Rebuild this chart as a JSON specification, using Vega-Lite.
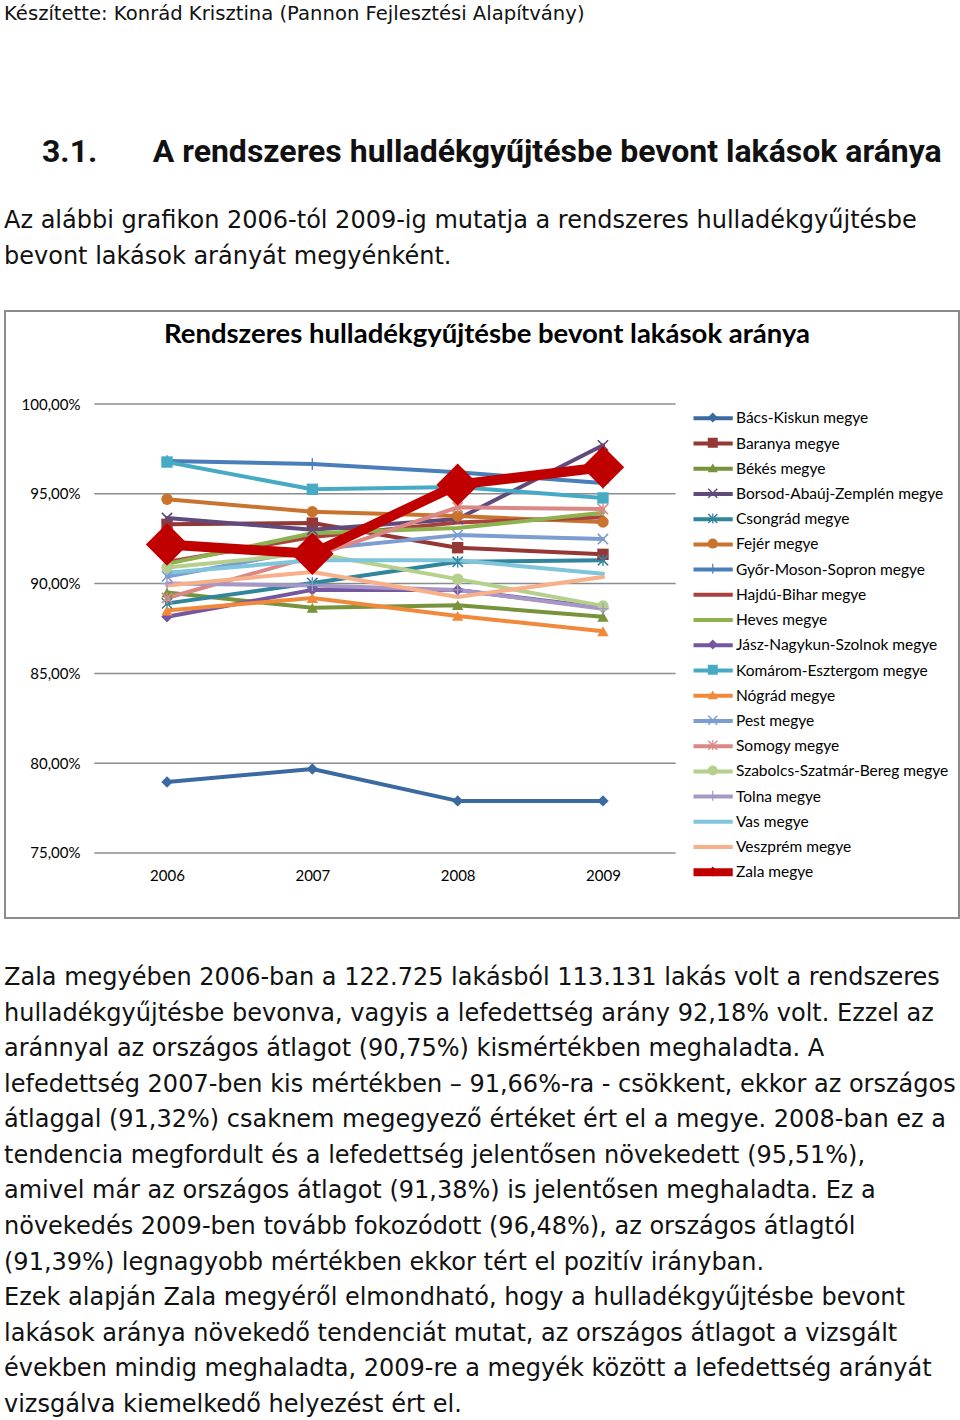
{
  "$schema": "https://vega.github.io/schema/vega-lite/v6.json",
  "background": "white",
  "padding": {"left": 4, "top": 4, "right": 0, "bottom": 0},
  "config": {
    "locale": {"number": {"decimal": ",", "thousands": "\u00a0", "grouping": [3], "currency": ["", "\u00a0Ft"]}},
    "concat": {"spacing": 0},
    "title": {"color": "#111111", "anchor": "start", "fontWeight": "normal"}
  },
  "datasets": {
    "grid": [{"tick": 0.75}, {"tick": 0.80}, {"tick": 0.85}, {"tick": 0.90}, {"tick": 0.95}, {"tick": 1.00}],
    "rates": [
      {"county": "Bács-Kiskun megye", "year": 2006, "rate": 0.7895},
      {"county": "Bács-Kiskun megye", "year": 2007, "rate": 0.7968},
      {"county": "Bács-Kiskun megye", "year": 2008, "rate": 0.7790},
      {"county": "Bács-Kiskun megye", "year": 2009, "rate": 0.7790},
      {"county": "Baranya megye", "year": 2006, "rate": 0.9330},
      {"county": "Baranya megye", "year": 2007, "rate": 0.9337},
      {"county": "Baranya megye", "year": 2008, "rate": 0.9200},
      {"county": "Baranya megye", "year": 2009, "rate": 0.9163},
      {"county": "Békés megye", "year": 2006, "rate": 0.8950},
      {"county": "Békés megye", "year": 2007, "rate": 0.8865},
      {"county": "Békés megye", "year": 2008, "rate": 0.8880},
      {"county": "Békés megye", "year": 2009, "rate": 0.8815},
      {"county": "Borsod-Abaúj-Zemplén megye", "year": 2006, "rate": 0.9365},
      {"county": "Borsod-Abaúj-Zemplén megye", "year": 2007, "rate": 0.9300},
      {"county": "Borsod-Abaúj-Zemplén megye", "year": 2008, "rate": 0.9360},
      {"county": "Borsod-Abaúj-Zemplén megye", "year": 2009, "rate": 0.9770},
      {"county": "Csongrád megye", "year": 2006, "rate": 0.8890},
      {"county": "Csongrád megye", "year": 2007, "rate": 0.9003},
      {"county": "Csongrád megye", "year": 2008, "rate": 0.9122},
      {"county": "Csongrád megye", "year": 2009, "rate": 0.9130},
      {"county": "Fejér megye", "year": 2006, "rate": 0.9470},
      {"county": "Fejér megye", "year": 2007, "rate": 0.9400},
      {"county": "Fejér megye", "year": 2008, "rate": 0.9376},
      {"county": "Fejér megye", "year": 2009, "rate": 0.9343},
      {"county": "Győr-Moson-Sopron megye", "year": 2006, "rate": 0.9683},
      {"county": "Győr-Moson-Sopron megye", "year": 2007, "rate": 0.9666},
      {"county": "Győr-Moson-Sopron megye", "year": 2008, "rate": 0.9620},
      {"county": "Győr-Moson-Sopron megye", "year": 2009, "rate": 0.9560},
      {"county": "Hajdú-Bihar megye", "year": 2006, "rate": 0.9120},
      {"county": "Hajdú-Bihar megye", "year": 2007, "rate": 0.9260},
      {"county": "Hajdú-Bihar megye", "year": 2008, "rate": 0.9340},
      {"county": "Hajdú-Bihar megye", "year": 2009, "rate": 0.9370},
      {"county": "Heves megye", "year": 2006, "rate": 0.9110},
      {"county": "Heves megye", "year": 2007, "rate": 0.9280},
      {"county": "Heves megye", "year": 2008, "rate": 0.9310},
      {"county": "Heves megye", "year": 2009, "rate": 0.9395},
      {"county": "Jász-Nagykun-Szolnok megye", "year": 2006, "rate": 0.8815},
      {"county": "Jász-Nagykun-Szolnok megye", "year": 2007, "rate": 0.8965},
      {"county": "Jász-Nagykun-Szolnok megye", "year": 2008, "rate": 0.8965},
      {"county": "Jász-Nagykun-Szolnok megye", "year": 2009, "rate": 0.8865},
      {"county": "Komárom-Esztergom megye", "year": 2006, "rate": 0.9677},
      {"county": "Komárom-Esztergom megye", "year": 2007, "rate": 0.9525},
      {"county": "Komárom-Esztergom megye", "year": 2008, "rate": 0.9538},
      {"county": "Komárom-Esztergom megye", "year": 2009, "rate": 0.9477},
      {"county": "Nógrád megye", "year": 2006, "rate": 0.8850},
      {"county": "Nógrád megye", "year": 2007, "rate": 0.8920},
      {"county": "Nógrád megye", "year": 2008, "rate": 0.8820},
      {"county": "Nógrád megye", "year": 2009, "rate": 0.8735},
      {"county": "Pest megye", "year": 2006, "rate": 0.9040},
      {"county": "Pest megye", "year": 2007, "rate": 0.9190},
      {"county": "Pest megye", "year": 2008, "rate": 0.9270},
      {"county": "Pest megye", "year": 2009, "rate": 0.9248},
      {"county": "Somogy megye", "year": 2006, "rate": 0.8920},
      {"county": "Somogy megye", "year": 2007, "rate": 0.9150},
      {"county": "Somogy megye", "year": 2008, "rate": 0.9425},
      {"county": "Somogy megye", "year": 2009, "rate": 0.9415},
      {"county": "Szabolcs-Szatmár-Bereg megye", "year": 2006, "rate": 0.9090},
      {"county": "Szabolcs-Szatmár-Bereg megye", "year": 2007, "rate": 0.9170},
      {"county": "Szabolcs-Szatmár-Bereg megye", "year": 2008, "rate": 0.9025},
      {"county": "Szabolcs-Szatmár-Bereg megye", "year": 2009, "rate": 0.8875},
      {"county": "Tolna megye", "year": 2006, "rate": 0.9000},
      {"county": "Tolna megye", "year": 2007, "rate": 0.8990},
      {"county": "Tolna megye", "year": 2008, "rate": 0.8965},
      {"county": "Tolna megye", "year": 2009, "rate": 0.8860},
      {"county": "Vas megye", "year": 2006, "rate": 0.9060},
      {"county": "Vas megye", "year": 2007, "rate": 0.9130},
      {"county": "Vas megye", "year": 2008, "rate": 0.9130},
      {"county": "Vas megye", "year": 2009, "rate": 0.9055},
      {"county": "Veszprém megye", "year": 2006, "rate": 0.8990},
      {"county": "Veszprém megye", "year": 2007, "rate": 0.9065},
      {"county": "Veszprém megye", "year": 2008, "rate": 0.8925},
      {"county": "Veszprém megye", "year": 2009, "rate": 0.9037},
      {"county": "Zala megye", "year": 2006, "rate": 0.9218},
      {"county": "Zala megye", "year": 2007, "rate": 0.9166},
      {"county": "Zala megye", "year": 2008, "rate": 0.9551},
      {"county": "Zala megye", "year": 2009, "rate": 0.9648}
    ]
  },
  "title": {
    "text": "Készítette: Konrád Krisztina (Pannon Fejlesztési Alapítvány)",
    "font": "DejaVu Sans", "fontSize": 19.6, "offset": 111
  },
  "vconcat": [{
    "title": {
      "text": "3.1.\u2003\u2002\u2009A rendszeres hulladékgyűjtésbe bevont lakások aránya",
      "font": "Roboto", "fontSize": 32, "fontWeight": "bold", "dx": 38, "offset": 40
    },
    "vconcat": [{
      "title": {
        "text": ["Az alábbi grafikon 2006-tól 2009-ig mutatja a rendszeres hulladékgyűjtésbe", "bevont lakások arányát megyénként."],
        "font": "DejaVu Sans", "fontSize": 24, "lineHeight": 35.5, "offset": 41.5
      },
      "vconcat": [{
        "title": {
          "text": [
            "Zala megyében 2006-ban a 122.725 lakásból 113.131 lakás volt a rendszeres",
            "hulladékgyűjtésbe bevonva, vagyis a lefedettség arány 92,18% volt. Ezzel az",
            "aránnyal az országos átlagot (90,75%) kismértékben meghaladta. A",
            "lefedettség 2007-ben kis mértékben – 91,66%-ra - csökkent, ekkor az országos",
            "átlaggal (91,32%) csaknem megegyező értéket ért el a megye. 2008-ban ez a",
            "tendencia megfordult és a lefedettség jelentősen növekedett (95,51%),",
            "amivel már az országos átlagot (91,38%) is jelentősen meghaladta. Ez a",
            "növekedés 2009-ben tovább fokozódott (96,48%), az országos átlagtól",
            "(91,39%) legnagyobb mértékben ekkor tért el pozitív irányban.",
            "Ezek alapján Zala megyéről elmondható, hogy a hulladékgyűjtésbe bevont",
            "lakások aránya növekedő tendenciát mutat, az országos átlagot a vizsgált",
            "években mindig meghaladta, 2009-re a megyék között a lefedettség arányát",
            "vizsgálva kiemelkedő helyezést ért el."
          ],
          "orient": "bottom", "font": "DejaVu Sans", "fontSize": 24, "lineHeight": 35.58, "offset": 47
        },
        "vconcat": [{
          "width": 954,
          "height": 607,
          "view": {"stroke": "#8c8c8c", "strokeWidth": 2, "fill": "white"},
          "title": {
            "text": "Rendszeres hulladékgyűjtésbe bevont lakások aránya",
            "anchor": "middle", "font": "Lato", "fontSize": 27.5, "fontWeight": "bold",
            "color": "#000000", "offset": -37, "dx": 5
          },
          "layer": [
            {
              "data": {"name": "grid"},
              "mark": {"type": "rule", "color": "#8c8c8c", "strokeWidth": 1.5},
              "encoding": {
                "y": {"field": "tick", "type": "quantitative",
                      "scale": {"domain": [0.7138, 1.0518], "nice": false, "zero": false},
                      "axis": {"orient": "left", "offset": -91, "domain": false, "ticks": false, "grid": false,
                               "values": [0.75, 0.8, 0.85, 0.9, 0.95, 1.0], "format": ".2%",
                               "labelFont": "Lato", "labelFontSize": 15, "labelColor": "#000000",
                               "labelPadding": 16, "title": null}},
                "x": {"datum": 2005.5, "type": "quantitative",
                      "scale": {"domain": [2004.885, 2011.45], "nice": false, "zero": false},
                      "axis": {"orient": "bottom", "offset": -65, "domain": false, "ticks": false, "grid": false,
                               "values": [2006, 2007, 2008, 2009], "format": "d",
                               "labelFont": "Lato", "labelFontSize": 15, "labelColor": "#000000",
                               "labelPadding": 15, "title": null}},
                "x2": {"datum": 2009.5}
              }
            },
            {
              "data": {"name": "rates"},
              "mark": {"type": "line", "strokeWidth": 4, "strokeJoin": "round", "strokeCap": "round"},
              "encoding": {
                "x": {"field": "year", "type": "quantitative"},
                "y": {"field": "rate", "type": "quantitative"},
                "color": {
                  "field": "county", "type": "nominal", "sort": null,
                  "scale": {"range": ["#3B6AA0", "#953735", "#77933C", "#604A7B", "#31859C", "#C8742F", "#4A7EBB", "#A9423F", "#8DB24E", "#7457A0", "#46AAC5", "#F2893A", "#7D9CD0", "#D98886", "#B5D08C", "#A697C4", "#7FC5DB", "#F8B08B", "#C00000"]},
                  "legend": {
                    "orient": "none", "legendX": 688.5, "legendY": 94.8, "title": null,
                    "symbolType": "M-6.3,0H6.3", "symbolSize": 100, "symbolStrokeWidth": 4,
                    "clipHeight": 25, "rowPadding": 0.22, "padding": 0,
                    "labelFont": "Lato", "labelFontSize": 15.5, "labelColor": "#000000",
                    "labelOffset": 27, "labelLimit": 300,
                    "encode": {"symbols": {"update": {"strokeWidth": {"signal": "datum.value === 'Zala megye' ? 8 : 4"}}}}
                  }
                }
              }
            },
            {
              "data": {"name": "rates"},
              "mark": {"type": "point", "filled": true, "opacity": 1, "strokeWidth": 0, "size": 130},
              "encoding": {
                "x": {"field": "year", "type": "quantitative"},
                "y": {"field": "rate", "type": "quantitative"},
                "fill": {
                  "field": "county", "type": "nominal",
                  "scale": {
                    "domain": ["Bács-Kiskun megye", "Baranya megye", "Békés megye", "Borsod-Abaúj-Zemplén megye", "Csongrád megye", "Fejér megye", "Győr-Moson-Sopron megye", "Hajdú-Bihar megye", "Heves megye", "Jász-Nagykun-Szolnok megye", "Komárom-Esztergom megye", "Nógrád megye", "Pest megye", "Somogy megye", "Szabolcs-Szatmár-Bereg megye", "Tolna megye", "Vas megye", "Veszprém megye", "Zala megye"],
                    "range": ["#3B6AA0", "#953735", "#77933C", "#604A7B", "#31859C", "#C8742F", "#4A7EBB", "#A9423F", "#8DB24E", "#7457A0", "#46AAC5", "#F2893A", "#7D9CD0", "#D98886", "#B5D08C", "#A697C4", "#7FC5DB", "#F8B08B", "#C00000"]
                  },
                  "legend": {
                    "orient": "top-right", "offset": 94.4, "padding": 0, "title": null,
                    "symbolSize": 100, "symbolStrokeWidth": 0, "clipHeight": 25, "rowPadding": 0.22,
                    "labelExpr": "''", "labelOffset": 143.6, "labelFontSize": 15.5,
                    "encode": {"symbols": {"update": {"size": {"signal": "datum.value === 'Zala megye' ? 230 : 100"}}}}
                  }
                },
                "shape": {
                  "field": "county", "type": "nominal",
                  "scale": {
                    "domain": ["Bács-Kiskun megye", "Baranya megye", "Békés megye", "Borsod-Abaúj-Zemplén megye", "Csongrád megye", "Fejér megye", "Győr-Moson-Sopron megye", "Hajdú-Bihar megye", "Heves megye", "Jász-Nagykun-Szolnok megye", "Komárom-Esztergom megye", "Nógrád megye", "Pest megye", "Somogy megye", "Szabolcs-Szatmár-Bereg megye", "Tolna megye", "Vas megye", "Veszprém megye", "Zala megye"],
                    "range": [
                      "diamond", "square", "triangle-up",
                      "M-1,-0.8L-0.8,-1L1,0.8L0.8,1ZM-1,0.8L-0.8,1L1,-0.8L0.8,-1Z",
                      "M-1,-0.8L-0.8,-1L1,0.8L0.8,1ZM-1,0.8L-0.8,1L1,-0.8L0.8,-1ZM-0.12,-1H0.12V1H-0.12Z",
                      "circle",
                      "M-1,-0.12H1V0.12H-1ZM-0.12,-1H0.12V1H-0.12Z",
                      "M0,0Z", "M0,0Z",
                      "diamond", "square", "triangle-up",
                      "M-1,-0.8L-0.8,-1L1,0.8L0.8,1ZM-1,0.8L-0.8,1L1,-0.8L0.8,-1Z",
                      "M-1,-0.8L-0.8,-1L1,0.8L0.8,1ZM-1,0.8L-0.8,1L1,-0.8L0.8,-1ZM-0.12,-1H0.12V1H-0.12Z",
                      "circle",
                      "M-1,-0.12H1V0.12H-1ZM-0.12,-1H0.12V1H-0.12Z",
                      "M0,0Z", "M0,0Z",
                      "diamond"
                    ]
                  },
                  "legend": {
                    "orient": "top-right", "offset": 94.4, "padding": 0, "title": null,
                    "symbolSize": 100, "symbolStrokeWidth": 0, "clipHeight": 25, "rowPadding": 0.22,
                    "labelExpr": "''", "labelOffset": 143.6, "labelFontSize": 15.5,
                    "encode": {"symbols": {"update": {"size": {"signal": "datum.value === 'Zala megye' ? 230 : 100"}}}}
                  }
                }
              }
            },
            {
              "data": {"name": "rates"},
              "transform": [{"filter": "datum.county === 'Zala megye'"}],
              "mark": {"type": "line", "color": "#C00000", "strokeWidth": 10, "strokeJoin": "round"},
              "encoding": {
                "x": {"field": "year", "type": "quantitative"},
                "y": {"field": "rate", "type": "quantitative"}
              }
            },
            {
              "data": {"name": "rates"},
              "transform": [{"filter": "datum.county === 'Zala megye'"}],
              "mark": {"type": "point", "shape": "diamond", "filled": true, "color": "#C00000", "opacity": 1, "size": 1800},
              "encoding": {
                "x": {"field": "year", "type": "quantitative"},
                "y": {"field": "rate", "type": "quantitative"}
              }
            }
          ]
        }]
      }]
    }]
  }]
}
